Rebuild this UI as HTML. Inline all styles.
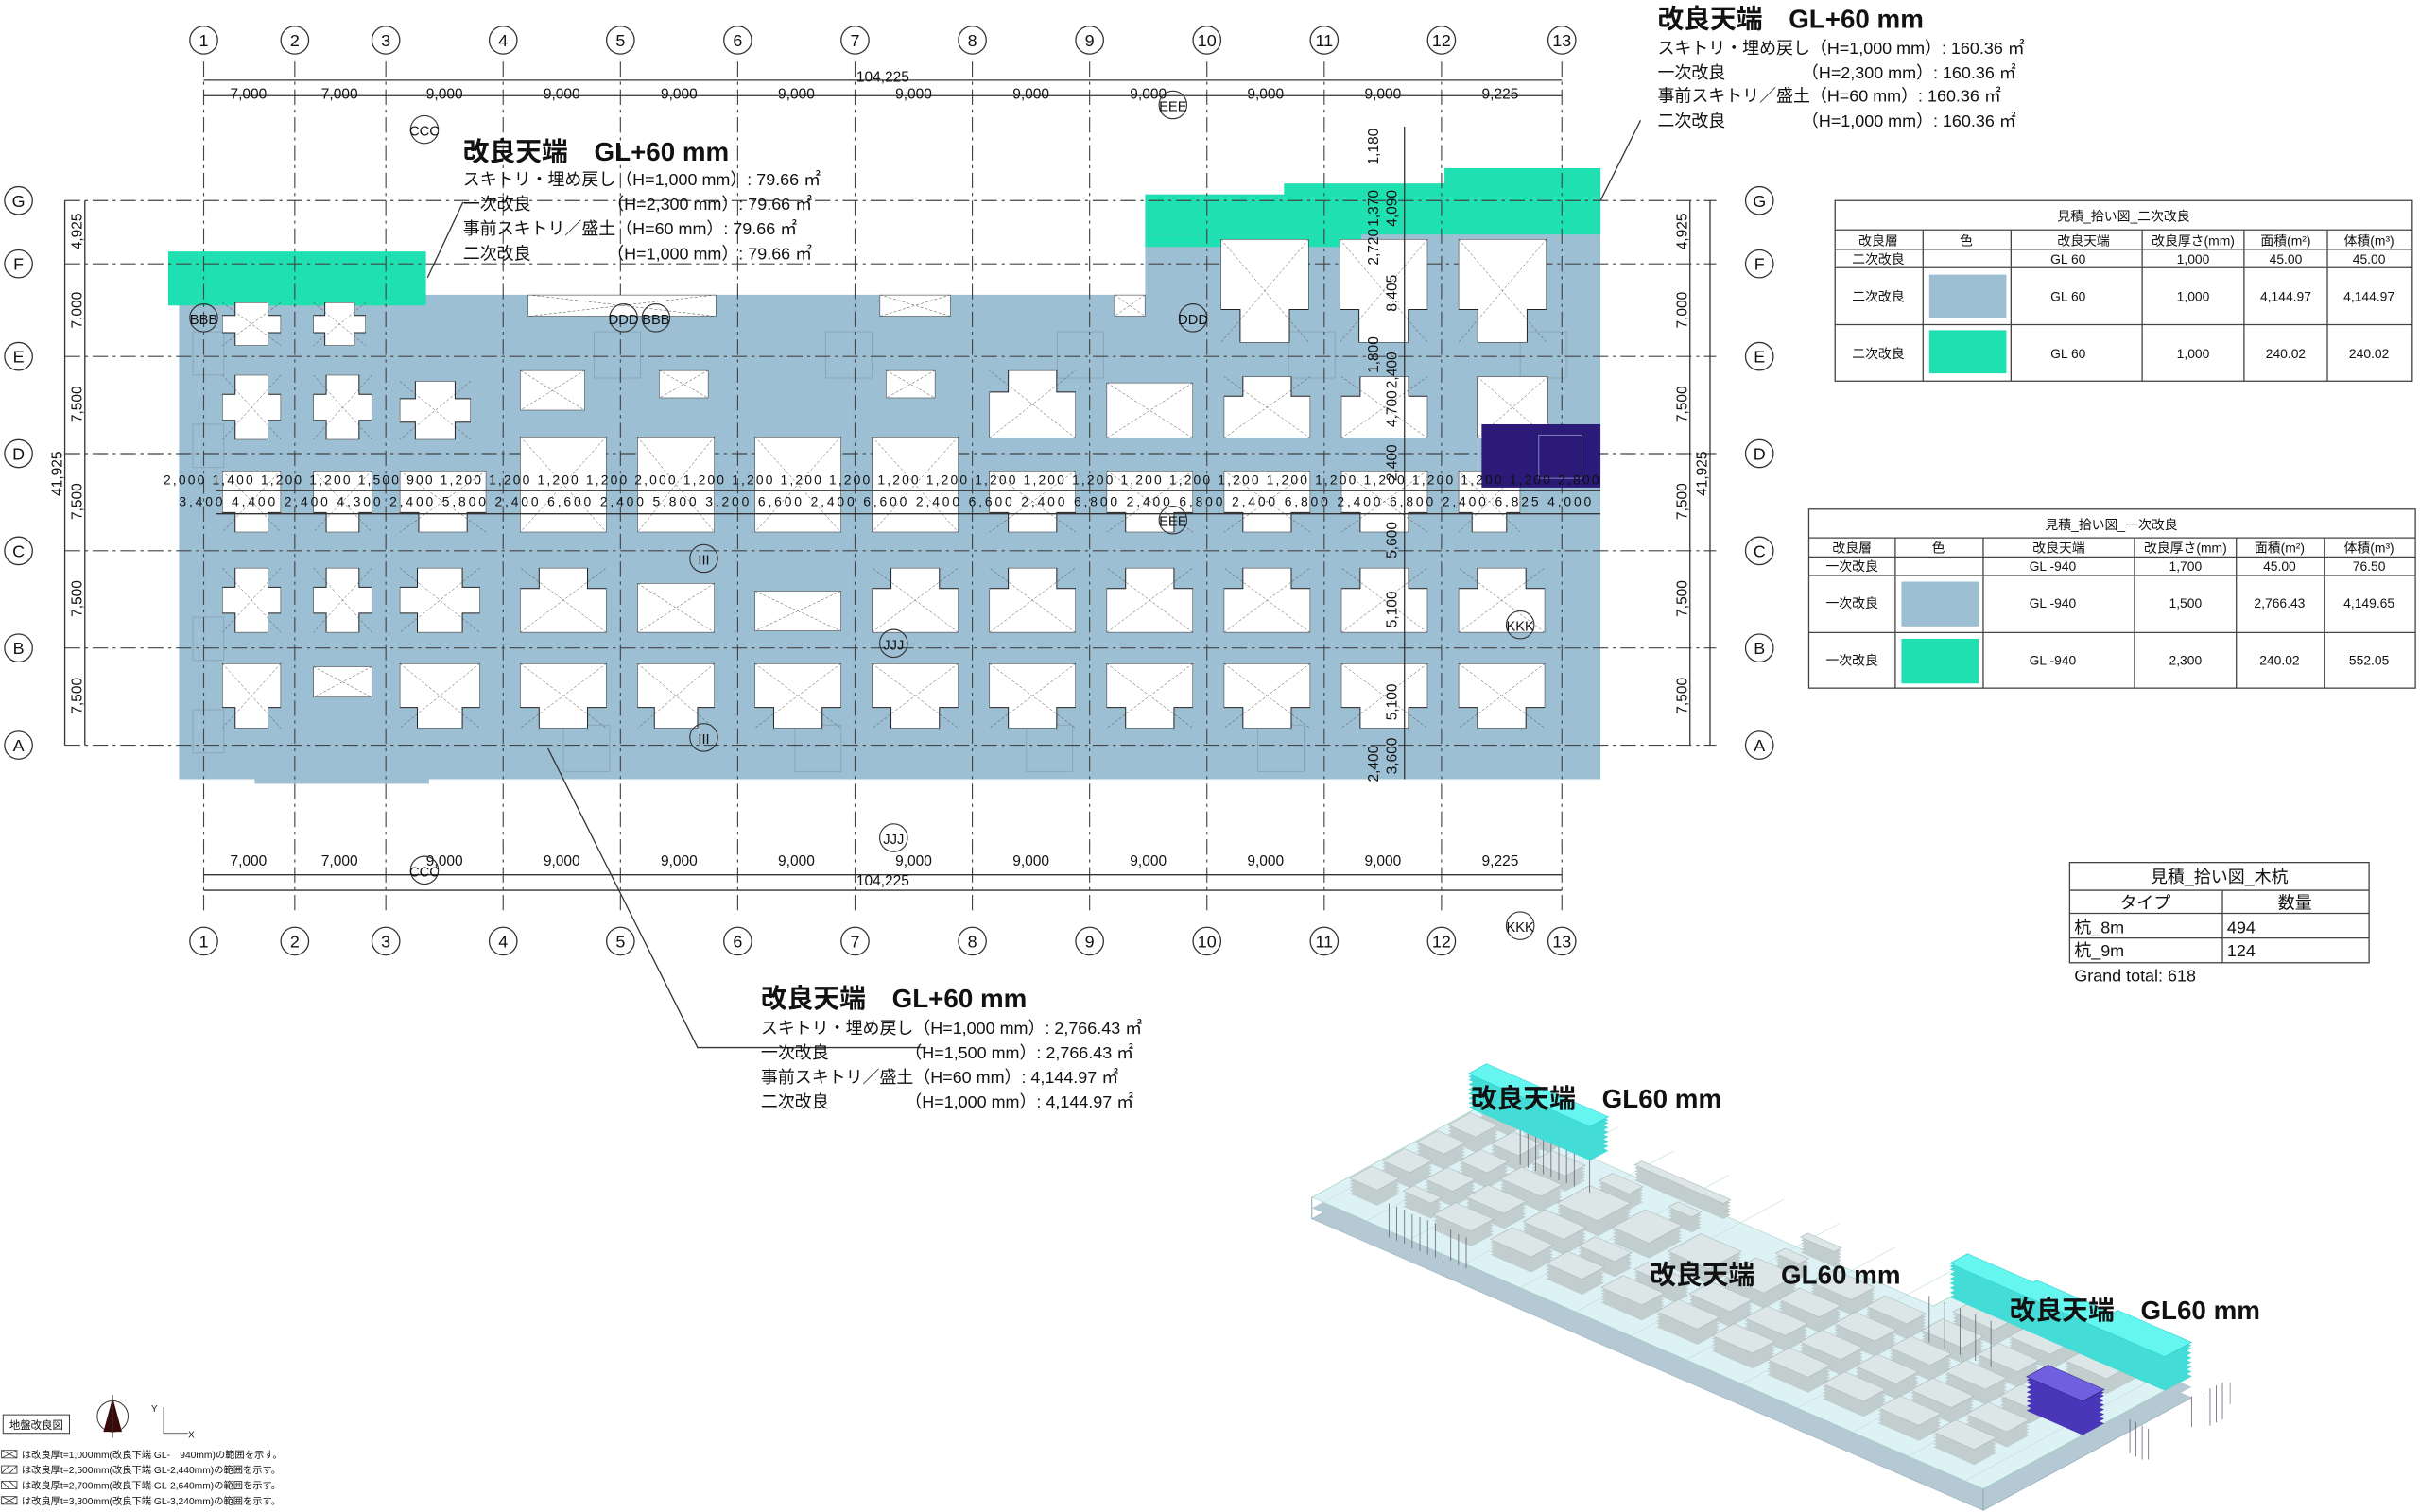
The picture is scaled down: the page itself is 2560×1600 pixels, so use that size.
<!DOCTYPE html>
<html><head><meta charset="utf-8"><style>
html,body{margin:0;padding:0;background:#fff;}
svg{display:block}
text{font-family:"Liberation Sans","Noto Sans CJK JP",sans-serif;fill:#111}
.c{font-family:"Liberation Mono","Noto Sans CJK JP",monospace}
</style></head><body>
<svg width="2560" height="1600" viewBox="0 0 1568 980" preserveAspectRatio="none" xmlns="http://www.w3.org/2000/svg">
<defs>
<symbol id="ft" viewBox="0 0 100 100" preserveAspectRatio="none">
<polygon points="0,0 100,0 100,68 78,68 78,100 22,100 22,68 0,68" fill="#fff" stroke="#222" stroke-width="1" vector-effect="non-scaling-stroke"/>
<path d="M0 0L100 100M100 0L0 100" stroke="#444" stroke-width="0.5" stroke-dasharray="3 2" vector-effect="non-scaling-stroke" fill="none"/>
</symbol>
<symbol id="fr" viewBox="0 0 100 100" preserveAspectRatio="none">
<rect x="0" y="0" width="100" height="100" fill="#fff" stroke="#222" stroke-width="1" vector-effect="non-scaling-stroke"/>
<path d="M0 0L100 100M100 0L0 100" stroke="#444" stroke-width="0.5" stroke-dasharray="3 2" vector-effect="non-scaling-stroke" fill="none"/>
</symbol>
<symbol id="fx" viewBox="0 0 100 100" preserveAspectRatio="none">
<polygon points="22,0 78,0 78,30 100,30 100,70 78,70 78,100 22,100 22,70 0,70 0,30 22,30" fill="#fff" stroke="#222" stroke-width="1" vector-effect="non-scaling-stroke"/>
<path d="M0 0L100 100M100 0L0 100" stroke="#444" stroke-width="0.5" stroke-dasharray="3 2" vector-effect="non-scaling-stroke" fill="none"/>
</symbol>
<g id="fp">
<rect x="144" y="196" width="38" height="28"/><rect x="203" y="196" width="34" height="28"/>
<rect x="342" y="191" width="122" height="14"/><rect x="570" y="191" width="46" height="14"/>
<rect x="791" y="155" width="57" height="67"/><rect x="868" y="155" width="57" height="67"/><rect x="945" y="155" width="57" height="67"/>
<rect x="144" y="243" width="38" height="42"/><rect x="203" y="243" width="38" height="42"/><rect x="259" y="247" width="46" height="38"/>
<rect x="337" y="240" width="42" height="26"/><rect x="427" y="240" width="32" height="18"/><rect x="574" y="240" width="32" height="18"/>
<rect x="641" y="240" width="56" height="44"/><rect x="717" y="248" width="56" height="36"/><rect x="793" y="244" width="56" height="40"/><rect x="869" y="244" width="56" height="40"/><rect x="957" y="244" width="46" height="40"/>
<rect x="144" y="305" width="38" height="40"/><rect x="203" y="305" width="38" height="40"/><rect x="259" y="305" width="56" height="40"/>
<rect x="337" y="283" width="56" height="62"/><rect x="413" y="283" width="50" height="62"/><rect x="489" y="283" width="56" height="62"/><rect x="565" y="283" width="56" height="62"/>
<rect x="641" y="305" width="56" height="40"/><rect x="717" y="305" width="56" height="40"/><rect x="793" y="305" width="56" height="40"/><rect x="869" y="305" width="56" height="40"/><rect x="945" y="305" width="40" height="40"/>
<rect x="144" y="368" width="38" height="42"/><rect x="203" y="368" width="38" height="42"/><rect x="259" y="368" width="52" height="42"/><rect x="337" y="368" width="56" height="42"/><rect x="413" y="378" width="50" height="32"/><rect x="489" y="383" width="56" height="26"/><rect x="565" y="368" width="56" height="42"/><rect x="641" y="368" width="56" height="42"/><rect x="717" y="368" width="56" height="42"/><rect x="793" y="368" width="56" height="42"/><rect x="869" y="368" width="56" height="42"/><rect x="945" y="368" width="56" height="42"/>
<rect x="144" y="430" width="38" height="42"/><rect x="203" y="432" width="38" height="20"/><rect x="259" y="430" width="52" height="42"/><rect x="337" y="430" width="56" height="42"/><rect x="413" y="430" width="50" height="42"/><rect x="489" y="430" width="56" height="42"/><rect x="565" y="430" width="56" height="42"/><rect x="641" y="430" width="56" height="42"/><rect x="717" y="430" width="56" height="42"/><rect x="793" y="430" width="56" height="42"/><rect x="869" y="430" width="56" height="42"/><rect x="945" y="430" width="56" height="42"/>
</g>
<path id="area" d="M116 191 L742 191 L742 126 L832 126 L832 119 L936 119 L936 109 L1037 109 L1037 505 L116 505 Z"/>
<g id="grn">
<rect x="109" y="163" width="167" height="35"/>
<path d="M742 126 L832 126 L832 119 L936 119 L936 109 L1037 109 L1037 160 L742 160 Z"/>
</g>
<rect id="pur" x="960" y="275" width="77" height="41"/>
<g id="fp3" transform="matrix(0.4723 0.2052 -0.3409 0.1843 967.4 659.1)"><use href="#fp"/></g>
<g id="grn3" transform="matrix(0.4723 0.2052 -0.3409 0.1843 967.4 659.1)"><use href="#grn"/></g>
<g id="pur3" transform="matrix(0.4723 0.2052 -0.3409 0.1843 967.4 659.1)"><use href="#pur"/></g>
</defs>

<!-- blue improved area -->
<path d="M116 191 L742 191 L742 126 L832 126 L832 119 L936 119 L936 109 L1037 109 L1037 505 L278 505 L278 508 L165 508 L165 505 L116 505 Z" fill="#9dbfd3"/>
<rect x="109" y="163" width="167" height="35" fill="#1ee0b0"/>
<path d="M742 126 L832 126 L832 119 L936 119 L936 109 L1037 109 L1037 152 L742 152 Z" fill="#1ee0b0"/>
<rect x="742" y="152" width="140" height="8" fill="#1ee0b0"/>

<g fill="none" stroke="#8aa6b8" stroke-width="0.6">
<rect x="125" y="215" width="20" height="28"/><rect x="125" y="275" width="20" height="28"/><rect x="125" y="400" width="20" height="28"/><rect x="125" y="460" width="20" height="28"/>
<rect x="365" y="470" width="30" height="30"/><rect x="515" y="470" width="30" height="30"/><rect x="665" y="470" width="30" height="30"/><rect x="815" y="470" width="30" height="30"/>
<rect x="385" y="215" width="30" height="30"/><rect x="535" y="215" width="30" height="30"/><rect x="685" y="215" width="30" height="30"/><rect x="835" y="215" width="30" height="30"/><rect x="985" y="215" width="30" height="30"/>
</g>

<!-- grid lines -->
<g stroke="#444" stroke-width="0.7" stroke-dasharray="10 3 2 3" fill="none">
<path d="M132 40V592M191 40V592M250 40V592M326 40V592M402 40V592M478 40V592M554 40V592M630 40V592M706 40V592M782 40V592M858 40V592M934 40V592M1012 40V592"/>
<path d="M42 130H1112M42 171H1112M42 231H1112M42 294H1112M42 357H1112M42 420H1112M42 483H1112"/>
</g>

<!-- footings -->
<g>
<use href="#fx" x="144" y="196" width="38" height="28"/>
<use href="#fx" x="203" y="196" width="34" height="28"/>
<use href="#fr" x="342" y="191" width="122" height="14"/>
<use href="#fr" x="570" y="191" width="46" height="14"/>
<use href="#fr" x="722" y="191" width="20" height="14"/>
<use href="#ft" x="791" y="155" width="57" height="67"/>
<use href="#ft" x="868" y="155" width="57" height="67"/>
<use href="#ft" x="945" y="155" width="57" height="67"/>

<use href="#fx" x="144" y="243" width="38" height="42"/>
<use href="#fx" x="203" y="243" width="38" height="42"/>
<use href="#fx" x="259" y="247" width="46" height="38"/>
<use href="#fr" x="337" y="240" width="42" height="26"/>
<use href="#fr" x="427" y="240" width="32" height="18"/>
<use href="#fr" x="574" y="240" width="32" height="18"/>
<use href="#ft" x="641" y="240" width="56" height="44" transform="rotate(180 669 262)"/>
<use href="#fr" x="717" y="248" width="56" height="36"/>
<use href="#ft" x="793" y="244" width="56" height="40" transform="rotate(180 821 264)"/>
<use href="#ft" x="869" y="244" width="56" height="40" transform="rotate(180 897 264)"/>
<use href="#fr" x="957" y="244" width="46" height="40"/>

<use href="#ft" x="144" y="305" width="38" height="40"/>
<use href="#ft" x="203" y="305" width="38" height="40"/>
<use href="#ft" x="259" y="305" width="56" height="40"/>
<use href="#fr" x="337" y="283" width="56" height="62"/>
<use href="#fr" x="413" y="283" width="50" height="62"/>
<use href="#fr" x="489" y="283" width="56" height="62"/>
<use href="#fr" x="565" y="283" width="56" height="62"/>
<use href="#ft" x="641" y="305" width="56" height="40"/>
<use href="#ft" x="717" y="305" width="56" height="40"/>
<use href="#ft" x="793" y="305" width="56" height="40"/>
<use href="#ft" x="869" y="305" width="56" height="40"/>
<use href="#ft" x="945" y="305" width="40" height="40"/>

<use href="#fx" x="144" y="368" width="38" height="42"/>
<use href="#fx" x="203" y="368" width="38" height="42"/>
<use href="#fx" x="259" y="368" width="52" height="42"/>
<use href="#ft" x="337" y="368" width="56" height="42" transform="rotate(180 365 389)"/>
<use href="#fr" x="413" y="378" width="50" height="32"/>
<use href="#fr" x="489" y="383" width="56" height="26"/>
<use href="#ft" x="565" y="368" width="56" height="42" transform="rotate(180 593 389)"/>
<use href="#ft" x="641" y="368" width="56" height="42" transform="rotate(180 669 389)"/>
<use href="#ft" x="717" y="368" width="56" height="42" transform="rotate(180 745 389)"/>
<use href="#ft" x="793" y="368" width="56" height="42" transform="rotate(180 821 389)"/>
<use href="#ft" x="869" y="368" width="56" height="42" transform="rotate(180 897 389)"/>
<use href="#ft" x="945" y="368" width="56" height="42" transform="rotate(180 973 389)"/>

<use href="#ft" x="144" y="430" width="38" height="42"/>
<use href="#fr" x="203" y="432" width="38" height="20"/>
<use href="#ft" x="259" y="430" width="52" height="42"/>
<use href="#ft" x="337" y="430" width="56" height="42"/>
<use href="#ft" x="413" y="430" width="50" height="42"/>
<use href="#ft" x="489" y="430" width="56" height="42"/>
<use href="#ft" x="565" y="430" width="56" height="42"/>
<use href="#ft" x="641" y="430" width="56" height="42"/>
<use href="#ft" x="717" y="430" width="56" height="42"/>
<use href="#ft" x="793" y="430" width="56" height="42"/>
<use href="#ft" x="869" y="430" width="56" height="42"/>
<use href="#ft" x="945" y="430" width="56" height="42"/>
</g>
<rect x="960" y="275" width="77" height="41" fill="#2b1a78"/>
<rect x="997" y="282" width="28" height="28" fill="none" stroke="#8a84c0" stroke-width="0.6"/>

<!-- dimension lines -->
<g stroke="#333" stroke-width="0.8" fill="none">
<path d="M132 52H1012M132 62H1012M132 567H1012M132 577H1012"/>
<path d="M42 130V483M55 130V483M1095 130V483M1108 130V483"/>
<path d="M910 82V505M140 318H1037M140 333H1037"/>
</g>
<g class="c" font-size="9.5" text-anchor="middle" fill="#333">
<text x="572" y="53">104,225</text>
<text x="161" y="64">7,000</text><text x="220" y="64">7,000</text><text x="288" y="64">9,000</text><text x="364" y="64">9,000</text><text x="440" y="64">9,000</text><text x="516" y="64">9,000</text><text x="592" y="64">9,000</text><text x="668" y="64">9,000</text><text x="744" y="64">9,000</text><text x="820" y="64">9,000</text><text x="896" y="64">9,000</text><text x="972" y="64">9,225</text>
<text x="161" y="561">7,000</text><text x="220" y="561">7,000</text><text x="288" y="561">9,000</text><text x="364" y="561">9,000</text><text x="440" y="561">9,000</text><text x="516" y="561">9,000</text><text x="592" y="561">9,000</text><text x="668" y="561">9,000</text><text x="744" y="561">9,000</text><text x="820" y="561">9,000</text><text x="896" y="561">9,000</text><text x="972" y="561">9,225</text>
<text x="572" y="574">104,225</text>
</g>
<g class="c" font-size="9.5" text-anchor="middle" fill="#333">
<text transform="translate(53 150) rotate(-90)">4,925</text>
<text transform="translate(53 201) rotate(-90)">7,000</text>
<text transform="translate(53 262) rotate(-90)">7,500</text>
<text transform="translate(53 325) rotate(-90)">7,500</text>
<text transform="translate(53 388) rotate(-90)">7,500</text>
<text transform="translate(53 451) rotate(-90)">7,500</text>
<text transform="translate(40 307) rotate(-90)">41,925</text>
<text transform="translate(1093 150) rotate(-90)">4,925</text>
<text transform="translate(1093 201) rotate(-90)">7,000</text>
<text transform="translate(1093 262) rotate(-90)">7,500</text>
<text transform="translate(1093 325) rotate(-90)">7,500</text>
<text transform="translate(1093 388) rotate(-90)">7,500</text>
<text transform="translate(1093 451) rotate(-90)">7,500</text>
<text transform="translate(1106 307) rotate(-90)">41,925</text>
<text transform="translate(893 95) rotate(-90)">1,180</text>
<text transform="translate(893 135) rotate(-90)">1,370</text>
<text transform="translate(905 135) rotate(-90)">4,090</text>
<text transform="translate(893 160) rotate(-90)">2,720</text>
<text transform="translate(905 190) rotate(-90)">8,405</text>
<text transform="translate(893 230) rotate(-90)">1,800</text>
<text transform="translate(905 240) rotate(-90)">2,400</text>
<text transform="translate(905 265) rotate(-90)">4,700</text>
<text transform="translate(905 300) rotate(-90)">2,400</text>
<text transform="translate(905 350) rotate(-90)">5,600</text>
<text transform="translate(905 395) rotate(-90)">5,100</text>
<text transform="translate(905 455) rotate(-90)">5,100</text>
<text transform="translate(905 490) rotate(-90)">3,600</text>
<text transform="translate(893 495) rotate(-90)">2,400</text>
</g>
<g class="c" font-size="8.5" fill="#333">
<text x="106" y="314" textLength="930" lengthAdjust="spacing">2,000 1,400 1,200 1,200 1,500 900 1,200 1,200 1,200 1,200 2,000 1,200 1,200 1,200 1,200 1,200 1,200 1,200 1,200 1,200 1,200 1,200 1,200 1,200 1,200 1,200 1,200 1,200 1,200 2,800</text>
<text x="116" y="328" textLength="915" lengthAdjust="spacing">3,400 4,400 2,400 4,300 2,400 5,800 2,400 6,600 2,400 5,800 3,200 6,600 2,400 6,600 2,400 6,600 2,400 6,800 2,400 6,800 2,400 6,800 2,400 6,800 2,400 6,825 4,000</text>
</g>

<!-- axis bubbles -->
<g fill="#fff" stroke="#333" stroke-width="0.8">
<circle cx="132" cy="26" r="9"/><circle cx="191" cy="26" r="9"/><circle cx="250" cy="26" r="9"/><circle cx="326" cy="26" r="9"/><circle cx="402" cy="26" r="9"/><circle cx="478" cy="26" r="9"/><circle cx="554" cy="26" r="9"/><circle cx="630" cy="26" r="9"/><circle cx="706" cy="26" r="9"/><circle cx="782" cy="26" r="9"/><circle cx="858" cy="26" r="9"/><circle cx="934" cy="26" r="9"/><circle cx="1012" cy="26" r="9"/>
<circle cx="132" cy="610" r="9"/><circle cx="191" cy="610" r="9"/><circle cx="250" cy="610" r="9"/><circle cx="326" cy="610" r="9"/><circle cx="402" cy="610" r="9"/><circle cx="478" cy="610" r="9"/><circle cx="554" cy="610" r="9"/><circle cx="630" cy="610" r="9"/><circle cx="706" cy="610" r="9"/><circle cx="782" cy="610" r="9"/><circle cx="858" cy="610" r="9"/><circle cx="934" cy="610" r="9"/><circle cx="1012" cy="610" r="9"/>
<circle cx="12" cy="130" r="9"/><circle cx="12" cy="171" r="9"/><circle cx="12" cy="231" r="9"/><circle cx="12" cy="294" r="9"/><circle cx="12" cy="357" r="9"/><circle cx="12" cy="420" r="9"/><circle cx="12" cy="483" r="9"/>
<circle cx="1140" cy="130" r="9"/><circle cx="1140" cy="171" r="9"/><circle cx="1140" cy="231" r="9"/><circle cx="1140" cy="294" r="9"/><circle cx="1140" cy="357" r="9"/><circle cx="1140" cy="420" r="9"/><circle cx="1140" cy="483" r="9"/>
</g>
<g font-size="11" text-anchor="middle">
<text x="132" y="30">1</text><text x="191" y="30">2</text><text x="250" y="30">3</text><text x="326" y="30">4</text><text x="402" y="30">5</text><text x="478" y="30">6</text><text x="554" y="30">7</text><text x="630" y="30">8</text><text x="706" y="30">9</text><text x="782" y="30">10</text><text x="858" y="30">11</text><text x="934" y="30">12</text><text x="1012" y="30">13</text>
<text x="132" y="614">1</text><text x="191" y="614">2</text><text x="250" y="614">3</text><text x="326" y="614">4</text><text x="402" y="614">5</text><text x="478" y="614">6</text><text x="554" y="614">7</text><text x="630" y="614">8</text><text x="706" y="614">9</text><text x="782" y="614">10</text><text x="858" y="614">11</text><text x="934" y="614">12</text><text x="1012" y="614">13</text>
<text x="12" y="134">G</text><text x="12" y="175">F</text><text x="12" y="235">E</text><text x="12" y="298">D</text><text x="12" y="361">C</text><text x="12" y="424">B</text><text x="12" y="487">A</text>
<text x="1140" y="134">G</text><text x="1140" y="175">F</text><text x="1140" y="235">E</text><text x="1140" y="298">D</text><text x="1140" y="361">C</text><text x="1140" y="424">B</text><text x="1140" y="487">A</text>
</g>
<g fill="none" stroke="#333" stroke-width="0.7">
<circle cx="275" cy="84" r="9"/><circle cx="275" cy="564" r="9"/><circle cx="132" cy="206" r="9"/><circle cx="404" cy="206" r="9"/><circle cx="425" cy="206" r="9"/><circle cx="773" cy="206" r="9"/><circle cx="760" cy="68" r="9"/><circle cx="760" cy="337" r="9"/><circle cx="456" cy="362" r="9"/><circle cx="456" cy="478" r="9"/><circle cx="579" cy="417" r="9"/><circle cx="579" cy="543" r="9"/><circle cx="985" cy="405" r="9"/><circle cx="985" cy="600" r="9"/>
</g>
<g font-size="9" text-anchor="middle">
<text x="275" y="88">CCC</text><text x="275" y="568">CCC</text><text x="132" y="210">BBB</text><text x="404" y="210">DDD</text><text x="425" y="210">BBB</text><text x="773" y="210">DDD</text><text x="760" y="72">EEE</text><text x="760" y="341">EEE</text><text x="456" y="366">III</text><text x="456" y="482">III</text><text x="579" y="421">JJJ</text><text x="579" y="547">JJJ</text><text x="985" y="409">KKK</text><text x="985" y="604">KKK</text>
</g>

<!-- callouts -->
<g stroke="#333" stroke-width="0.8" fill="none">
<path d="M277 180L300 131"/><path d="M1037 130L1063 78"/><path d="M355 485L452 679H600"/>
</g>
<g font-size="11">
<text x="300" y="104" font-size="17" font-weight="bold">改良天端　GL+60 mm</text>
<text x="300" y="120">スキトリ・埋め戻し（H=1,000 mm）: 79.66 ㎡</text>
<text x="300" y="136">一次改良　　　　　（H=2,300 mm）: 79.66 ㎡</text>
<text x="300" y="152">事前スキトリ／盛土（H=60 mm）: 79.66 ㎡</text>
<text x="300" y="168">二次改良　　　　　（H=1,000 mm）: 79.66 ㎡</text>
<text x="1074" y="18" font-size="17" font-weight="bold">改良天端　GL+60 mm</text>
<text x="1074" y="35">スキトリ・埋め戻し（H=1,000 mm）: 160.36 ㎡</text>
<text x="1074" y="51">一次改良　　　　　（H=2,300 mm）: 160.36 ㎡</text>
<text x="1074" y="66">事前スキトリ／盛土（H=60 mm）: 160.36 ㎡</text>
<text x="1074" y="82">二次改良　　　　　（H=1,000 mm）: 160.36 ㎡</text>
<text x="493" y="653" font-size="17" font-weight="bold">改良天端　GL+60 mm</text>
<text x="493" y="670">スキトリ・埋め戻し（H=1,000 mm）: 2,766.43 ㎡</text>
<text x="493" y="686">一次改良　　　　　（H=1,500 mm）: 2,766.43 ㎡</text>
<text x="493" y="702">事前スキトリ／盛土（H=60 mm）: 4,144.97 ㎡</text>
<text x="493" y="718">二次改良　　　　　（H=1,000 mm）: 4,144.97 ㎡</text>
</g>

<!-- tables -->
<g stroke="#444" stroke-width="0.8" fill="none">
<rect x="1189" y="130" width="374" height="117"/>
<path d="M1189 149H1563M1189 161.6H1563M1189 173.5H1563M1189 210.4H1563"/>
<path d="M1246 149V247M1303 149V247M1388 149V247M1454 149V247M1508 149V247"/>
<rect x="1172" y="330" width="393" height="116"/>
<path d="M1172 348.6H1565M1172 361H1565M1172 373H1565M1172 410H1565"/>
<path d="M1228 348.6V446M1285 348.6V446M1383 348.6V446M1449 348.6V446M1506 348.6V446"/>
<rect x="1341" y="559" width="194" height="65"/>
<path d="M1341 577H1535M1341 592H1535M1341 608H1535M1440 577V624"/>
</g>
<rect x="1250" y="178" width="50" height="28" fill="#9dbfd3"/>
<rect x="1250" y="214" width="50" height="28" fill="#1ee0b0"/>
<rect x="1232" y="377" width="50" height="29" fill="#9dbfd3"/>
<rect x="1232" y="414" width="50" height="29" fill="#1ee0b0"/>
<g font-size="8.5" text-anchor="middle" fill="#333">
<text x="1376" y="143">見積_拾い図_二次改良</text>
<text x="1217" y="159">改良層</text><text x="1274" y="159">色</text><text x="1350" y="159">改良天端</text><text x="1421" y="159">改良厚さ(mm)</text><text x="1481" y="159">面積(m²)</text><text x="1535" y="159">体積(m³)</text>
<text x="1217" y="171">二次改良</text><text x="1340" y="171">GL 60</text><text x="1421" y="171">1,000</text><text x="1481" y="171">45.00</text><text x="1535" y="171">45.00</text>
<text x="1217" y="195">二次改良</text><text x="1340" y="195">GL 60</text><text x="1421" y="195">1,000</text><text x="1481" y="195">4,144.97</text><text x="1535" y="195">4,144.97</text>
<text x="1217" y="232">二次改良</text><text x="1340" y="232">GL 60</text><text x="1421" y="232">1,000</text><text x="1481" y="232">240.02</text><text x="1535" y="232">240.02</text>
<text x="1368" y="343">見積_拾い図_一次改良</text>
<text x="1200" y="358">改良層</text><text x="1256" y="358">色</text><text x="1334" y="358">改良天端</text><text x="1416" y="358">改良厚さ(mm)</text><text x="1477" y="358">面積(m²)</text><text x="1535" y="358">体積(m³)</text>
<text x="1200" y="370">一次改良</text><text x="1330" y="370">GL -940</text><text x="1416" y="370">1,700</text><text x="1477" y="370">45.00</text><text x="1535" y="370">76.50</text>
<text x="1200" y="394">一次改良</text><text x="1330" y="394">GL -940</text><text x="1416" y="394">1,500</text><text x="1477" y="394">2,766.43</text><text x="1535" y="394">4,149.65</text>
<text x="1200" y="431">一次改良</text><text x="1330" y="431">GL -940</text><text x="1416" y="431">2,300</text><text x="1477" y="431">240.02</text><text x="1535" y="431">552.05</text>
</g>
<g font-size="11" fill="#222">
<text x="1438" y="572" text-anchor="middle">見積_拾い図_木杭</text>
<text x="1390" y="589" text-anchor="middle">タイプ</text><text x="1487" y="589" text-anchor="middle">数量</text>
<text x="1344" y="605">杭_8m</text><text x="1443" y="605">494</text>
<text x="1344" y="620">杭_9m</text><text x="1443" y="620">124</text>
<text x="1344" y="636">Grand total: 618</text>
</g>

<!-- 3D view -->
<g transform="translate(0 14)"><g transform="matrix(0.4723 0.2052 -0.3409 0.1843 967.4 659.1)"><use href="#area" fill="#b4c9d4" stroke="#8fa6b2" stroke-width="1"/></g></g>
<g transform="translate(0 7)"><g transform="matrix(0.4723 0.2052 -0.3409 0.1843 967.4 659.1)"><use href="#area" fill="#b4c9d4"/></g></g>
<g stroke="#8fa6b2" stroke-width="0.6"><path d="M850 776V790M1285 965V979M1445 896V910" fill="none"/></g>
<g transform="matrix(0.4723 0.2052 -0.3409 0.1843 967.4 659.1)">
<use href="#area" fill="#dcf2f5" stroke="#9cb" stroke-width="1"/>
<g stroke="#c4dde2" stroke-width="1" fill="none">
<path d="M132 109V505M191 109V505M250 109V505M326 109V505M402 109V505M478 109V505M554 109V505M630 109V505M706 109V505M782 109V505M858 109V505M934 109V505M1012 109V505"/>
</g>
</g>
<g fill="#c2cdce">
<use href="#fp3" transform="translate(0 -2)"/><use href="#fp3" transform="translate(0 -4)"/><use href="#fp3" transform="translate(0 -6)"/><use href="#fp3" transform="translate(0 -8)"/><use href="#fp3" transform="translate(0 -10)"/>
</g>
<use href="#fp3" transform="translate(0 -12)" fill="#dde6e7" stroke="#a9b5b7" stroke-width="1"/>
<g stroke="#667" stroke-width="0.5">
<path d="M900 780v22M905 782v22M910 784v22M915 787v22M920 789v22M925 791v22M930 793v22M935 795v20M940 797v20M945 800v20M950 802v20"/>
<path d="M985 715v40M990 717v40M995 719v40M1000 721v40M1005 723v40M1010 725v40M1015 727v40M1020 729v40M1025 731v40M1030 733v40"/>
<path d="M1380 920v22M1384 922v22M1388 924v22M1392 926v20M1428 902v24M1432 900v24M1436 898v24M1440 896v24M1420 905v20"/>
<path d="M1250 840v30M1260 844v30M1270 848v30M1280 852v30M1290 856v30"/>
</g>
<g fill="#44dcd6">
<use href="#grn3"/><use href="#grn3" transform="translate(0 -3)"/><use href="#grn3" transform="translate(0 -6)"/><use href="#grn3" transform="translate(0 -9)"/><use href="#grn3" transform="translate(0 -12)"/><use href="#grn3" transform="translate(0 -15)"/><use href="#grn3" transform="translate(0 -18)"/><use href="#grn3" transform="translate(0 -20)"/>
</g>
<use href="#grn3" transform="translate(0 -22)" fill="#66f6f0" stroke="#2cc" stroke-width="1"/>
<g fill="#4a36b8">
<use href="#pur3"/><use href="#pur3" transform="translate(0 -3)"/><use href="#pur3" transform="translate(0 -6)"/><use href="#pur3" transform="translate(0 -9)"/><use href="#pur3" transform="translate(0 -12)"/><use href="#pur3" transform="translate(0 -15)"/><use href="#pur3" transform="translate(0 -18)"/><use href="#pur3" transform="translate(0 -20)"/>
</g>
<use href="#pur3" transform="translate(0 -22)" fill="#7060e0" stroke="#2b1a78" stroke-width="1"/>
<g font-size="17" font-weight="bold">
<text x="953" y="718">改良天端　GL60 mm</text>
<text x="1069" y="832">改良天端　GL60 mm</text>
<text x="1302" y="855">改良天端　GL60 mm</text>
</g>

<!-- bottom-left legend -->
<rect x="2" y="917" width="43" height="12" fill="#fff" stroke="#333" stroke-width="0.6"/>
<text x="23.5" y="926" font-size="7" text-anchor="middle">地盤改良図</text>
<circle cx="73" cy="918" r="10" fill="none" stroke="#333" stroke-width="0.6"/>
<polygon points="73,906 67,928 79,928" fill="#3a0a0a"/>
<path d="M73 904V932" stroke="#333" stroke-width="0.5"/>
<path d="M106 912V929H122" stroke="#333" stroke-width="0.5" fill="none"/>
<text x="98" y="915" font-size="6">Y</text><text x="122" y="932" font-size="6">X</text>
<g font-size="6.3" fill="#333">
<text x="14" y="945">は改良厚t=1,000mm(改良下端 GL-　940mm)の範囲を示す。</text>
<text x="14" y="955">は改良厚t=2,500mm(改良下端 GL-2,440mm)の範囲を示す。</text>
<text x="14" y="965">は改良厚t=2,700mm(改良下端 GL-2,640mm)の範囲を示す。</text>
<text x="14" y="975">は改良厚t=3,300mm(改良下端 GL-3,240mm)の範囲を示す。</text>
</g>
<g stroke="#333" stroke-width="0.5" fill="none">
<rect x="1" y="940" width="10" height="5"/><rect x="1" y="950" width="10" height="5"/><rect x="1" y="960" width="10" height="5"/><rect x="1" y="970" width="10" height="5"/>
<path d="M1 940L11 945M11 940L1 945M1 955L6 950M6 955L11 950M1 960L6 965M6 960L11 965M1 970L11 975M11 970L1 975"/>
</g>
</svg>
</body></html>
